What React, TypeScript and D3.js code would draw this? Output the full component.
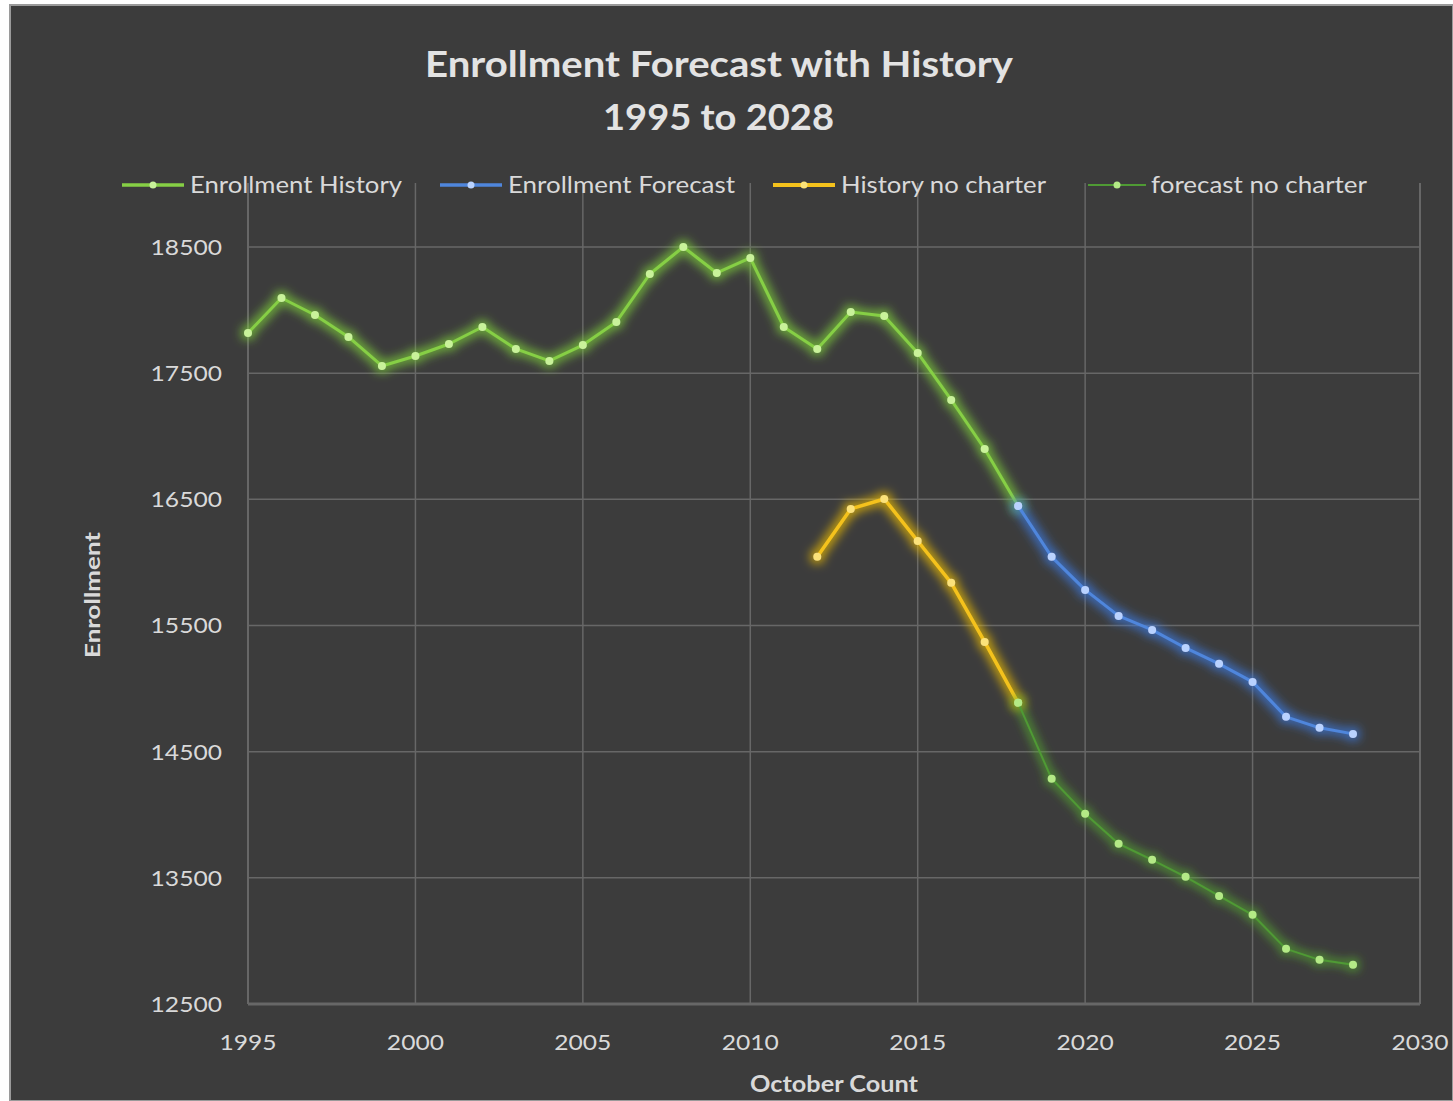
import React from "react";
import * as d3 from "d3";

const historyYears = [1995,1996,1997,1998,1999,2000,2001,2002,2003,2004,2005,2006,2007,2008,2009,2010,2011,2012,2013,2014,2015,2016,2017,2018];
const historyValues = [17819,18096,17961,17787,17557,17636,17731,17866,17692,17597,17723,17906,18286,18500,18294,18413,17866,17692,17985,17953,17660,17288,16899,16448];

const forecastYears = [2018,2019,2020,2021,2022,2023,2024,2025,2026,2027,2028];
const forecastValues = [16448,16044,15782,15576,15465,15322,15196,15053,14776,14689,14641];

const noCharterHistYears = [2012,2013,2014,2015,2016,2017,2018];
const noCharterHistValues = [16044,16424,16503,16170,15838,15370,14887];

const noCharterFcYears = [2018,2019,2020,2021,2022,2023,2024,2025,2026,2027,2028];
const noCharterFcValues = [14887,14285,14007,13770,13643,13508,13357,13207,12937,12850,12811];

const yTicks = [12500,13500,14500,15500,16500,17500,18500];
const xTicks = [1995,2000,2005,2010,2015,2020,2025,2030];

const legendLabels = ["Enrollment History","Enrollment Forecast","History no charter","forecast no charter"];

const W = 1453, H = 1101;
const FONT = "Lato, 'Open Sans', sans-serif";

export default function App() {
  const x = d3.scaleLinear().domain([1995, 2030]).range([248, 1420]);
  const y = d3.scaleLinear().domain([12500, 18500]).range([1004, 247]);

  const mk = (ys: number[], vs: number[]) => ys.map((yr, i) => [yr, vs[i]] as [number, number]);
  const line = d3.line<[number, number]>().x(d => x(d[0])).y(d => y(d[1]));

  const series = [
    { data: mk(historyYears, historyValues), color: "#86cf45", w: 3, marker: "#c9f29a", filter: "glowG" },
    { data: mk(forecastYears, forecastValues), color: "#4f86dc", w: 3, marker: "#b9d2ff", filter: "glowB" },
    { data: mk(noCharterHistYears, noCharterHistValues), color: "#f4c21c", w: 3.5, marker: "#fbe27a", filter: "glowY" },
    { data: mk(noCharterFcYears, noCharterFcValues), color: "#4f9a34", w: 2, marker: "#b4ea86", filter: "glowG2" },
  ];

  const gridColor = "#676767";
  const textColor = "#d9d9d9";

  const legendItems = [
    { x0: 122, x1: 184, tx: 190, tl: 212, color: "#86cf45", w: 3.5, marker: "#c9f29a" },
    { x0: 440, x1: 502, tx: 508, tl: 227, color: "#4f86dc", w: 3.5, marker: "#b9d2ff" },
    { x0: 773, x1: 835, tx: 841, tl: 205, color: "#f4c21c", w: 4, marker: "#fbe27a" },
    { x0: 1088, x1: 1146, tx: 1151, tl: 216, color: "#4f9a34", w: 2, marker: "#b4ea86" },
  ];

  const glowFilter = (id: string, color: string, sd: number, op: number) => (
    <filter id={id} x="-20%" y="-20%" width="140%" height="140%">
      <feMorphology in="SourceAlpha" operator="dilate" radius="3" result="d" />
      <feGaussianBlur in="d" stdDeviation={sd} result="b" />
      <feFlood floodColor={color} floodOpacity={op} result="c" />
      <feComposite in="c" in2="b" operator="in" result="g" />
      <feMerge>
        <feMergeNode in="g" />
        <feMergeNode in="SourceGraphic" />
      </feMerge>
    </filter>
  );

  return (
    <svg width={W} height={H} style={{ position: "absolute", left: 0, top: 0, background: "#ffffff" }}>
      <defs>
        {glowFilter("glowG", "#7fd23a", 5, 0.7)}
        {glowFilter("glowB", "#3c7ce6", 5, 0.7)}
        {glowFilter("glowY", "#f0c000", 5, 0.7)}
        {glowFilter("glowG2", "#58b52e", 4, 0.55)}
      </defs>
      <rect x={10} y={5} width={W - 10} height={H - 5} fill="#3c3c3c" stroke="#9a9a9a" strokeWidth={2} />

      {/* title */}
      <text x={425} y={77} textLength={588} lengthAdjust="spacingAndGlyphs" fontFamily={FONT} fontWeight={700} fontSize={36} fill="#e3e3e3">Enrollment Forecast with History</text>
      <text x={603} y={130} textLength={231} lengthAdjust="spacingAndGlyphs" fontFamily={FONT} fontWeight={700} fontSize={36} fill="#e3e3e3">1995 to 2028</text>

      {/* gridlines */}
      {yTicks.map(t => (
        <line key={"h" + t} x1={x(1995)} x2={x(2030)} y1={y(t)} y2={y(t)} stroke={gridColor} strokeWidth={t === 12500 ? 3 : 1.5} />
      ))}
      {xTicks.map(t => (
        <line key={"v" + t} x1={x(t)} x2={x(t)} y1={183} y2={y(12500)} stroke={gridColor} strokeWidth={t === 1995 || t === 2030 ? 2 : 1.5} />
      ))}

      {/* tick labels */}
      {yTicks.map(t => (
        <text key={"yl" + t} x={222} y={y(t) + 8} textAnchor="end" fontFamily={FONT} fontSize={22} fill={textColor} transform={`translate(222,0) scale(1.12,1) translate(-222,0)`}>{t}</text>
      ))}
      {xTicks.map(t => (
        <text key={"xl" + t} x={x(t)} y={1050} textAnchor="middle" fontFamily={FONT} fontSize={22} fill={textColor} transform={`translate(${x(t)},0) scale(1.12,1) translate(${-x(t)},0)`}>{t}</text>
      ))}

      {/* axis titles */}
      <text x={750} y={1092} textLength={168} lengthAdjust="spacingAndGlyphs" fontFamily={FONT} fontWeight={700} fontSize={22} fill={textColor}>October Count</text>
      <text transform="translate(100,658) rotate(-90)" textLength={126} lengthAdjust="spacingAndGlyphs" fontFamily={FONT} fontWeight={700} fontSize={21} fill={textColor}>Enrollment</text>

      {/* legend */}
      {legendItems.map((it, i) => (
        <g key={"lg" + i}>
          <line x1={it.x0} x2={it.x1} y1={185} y2={185} stroke={it.color} strokeWidth={it.w} />
          <circle cx={(it.x0 + it.x1) / 2} cy={185} r={3.5} fill={it.marker} />
          <text x={it.tx} y={193} textLength={it.tl} lengthAdjust="spacingAndGlyphs" fontFamily={FONT} fontSize={23} fill={textColor}>{legendLabels[i]}</text>
        </g>
      ))}

      {/* series */}
      {series.map((s, i) => (
        <g key={"s" + i} filter={`url(#${s.filter})`}>
          <path d={line(s.data) || ""} fill="none" stroke={s.color} strokeWidth={s.w} strokeLinejoin="round" />
          {s.data.map((d, j) => (
            <circle key={j} cx={x(d[0])} cy={y(d[1])} r={4} fill={s.marker} />
          ))}
        </g>
      ))}
    </svg>
  );
}
